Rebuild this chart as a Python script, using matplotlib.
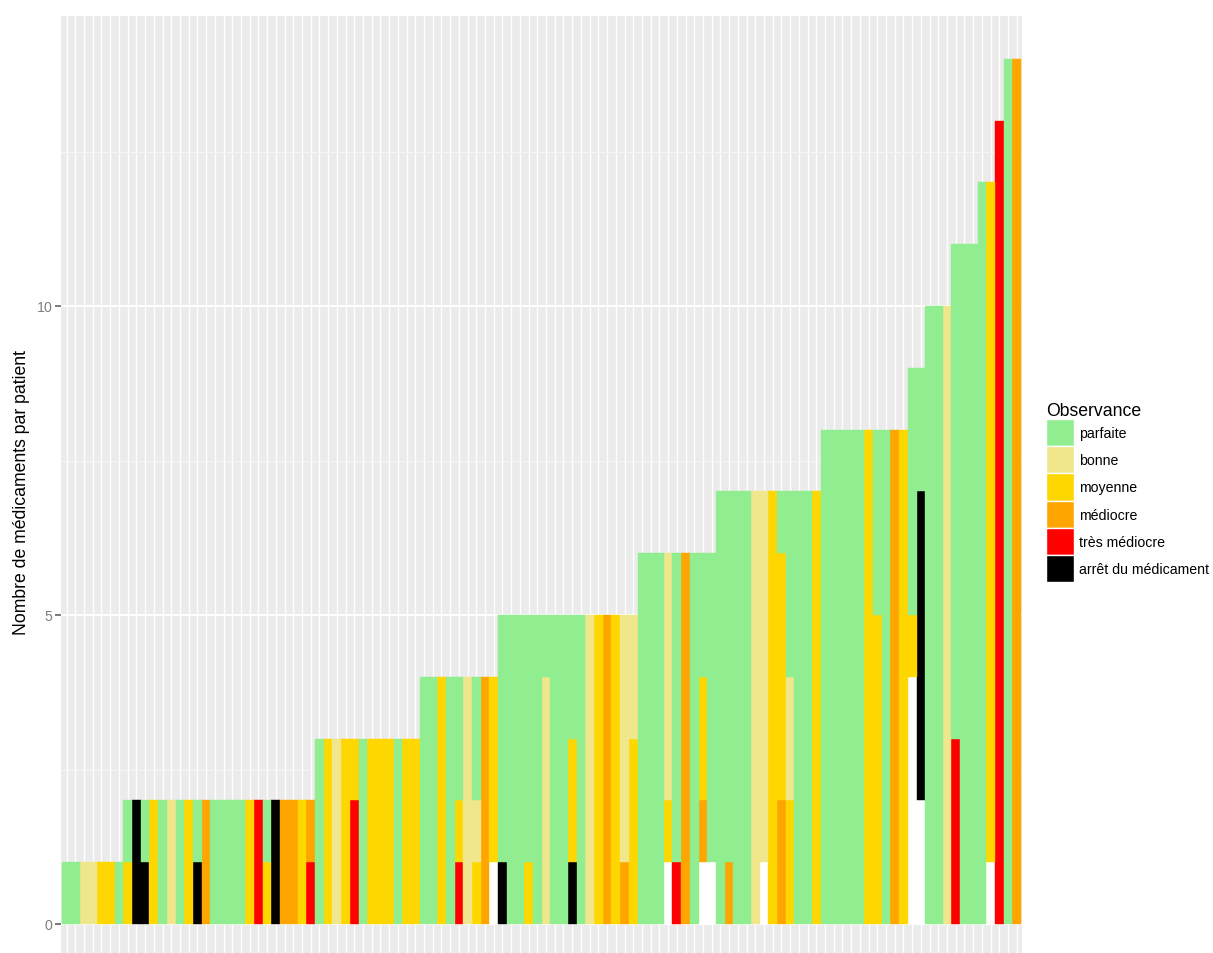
import matplotlib
matplotlib.use("Agg")
import matplotlib.pyplot as plt
import matplotlib.patches as mpatches
import numpy

# One column per patient (sorted by number of medications),
# values = number of medications of the patient in each observance class
parfaite = [
    1, 1, 0, 0, 0, 0, 1, 1, 0, 1,
    0, 2, 0, 2, 0, 1, 0, 2, 2, 2,
    2, 0, 0, 1, 0, 0, 0, 0, 0, 3,
    0, 0, 0, 0, 3, 0, 0, 0, 3, 0,
    0, 4, 4, 0, 4, 2, 0, 2, 0, 0,
    4, 5, 5, 4, 5, 1, 5, 5, 2, 5,
    0, 0, 0, 0, 0, 0, 6, 6, 6, 0,
    5, 0, 6, 2, 5, 7, 6, 7, 7, 0,
    0, 0, 1, 3, 7, 7, 0, 8, 8, 8,
    8, 8, 0, 3, 8, 0, 0, 4, 2, 10,
    10, 0, 8, 11, 11, 12, 0, 0, 14, 0]

bonne = [
    0, 0, 1, 1, 0, 0, 0, 0, 0, 0,
    0, 0, 2, 0, 0, 0, 0, 0, 0, 0,
    0, 0, 0, 0, 0, 0, 0, 0, 0, 0,
    0, 3, 0, 0, 0, 0, 0, 0, 0, 0,
    0, 0, 0, 0, 0, 0, 4, 1, 0, 0,
    0, 0, 0, 0, 0, 4, 0, 0, 0, 0,
    5, 0, 0, 0, 4, 2, 0, 0, 0, 4,
    0, 0, 0, 0, 0, 0, 0, 0, 0, 7,
    6, 0, 0, 2, 0, 0, 0, 0, 0, 0,
    0, 0, 0, 0, 0, 0, 0, 0, 0, 0,
    0, 10, 0, 0, 0, 0, 0, 0, 0, 0]

moyenne = [
    0, 0, 0, 0, 1, 1, 0, 1, 0, 0,
    2, 0, 0, 0, 2, 0, 0, 0, 0, 0,
    0, 2, 0, 1, 0, 0, 0, 2, 0, 0,
    3, 0, 3, 1, 0, 3, 3, 3, 0, 3,
    3, 0, 0, 4, 0, 1, 0, 1, 0, 3,
    0, 0, 0, 1, 0, 0, 0, 0, 2, 0,
    0, 5, 0, 5, 0, 3, 0, 0, 0, 1,
    0, 0, 0, 2, 0, 0, 0, 0, 0, 0,
    0, 7, 4, 2, 0, 0, 7, 0, 0, 0,
    0, 0, 8, 5, 0, 0, 8, 1, 0, 0,
    0, 0, 0, 0, 0, 0, 11, 0, 0, 0]

mediocre = [
    0, 0, 0, 0, 0, 0, 0, 0, 0, 0,
    0, 0, 0, 0, 0, 0, 2, 0, 0, 0,
    0, 0, 0, 0, 0, 2, 2, 0, 1, 0,
    0, 0, 0, 0, 0, 0, 0, 0, 0, 0,
    0, 0, 0, 0, 0, 0, 0, 0, 4, 0,
    0, 0, 0, 0, 0, 0, 0, 0, 0, 0,
    0, 0, 5, 0, 1, 0, 0, 0, 0, 0,
    0, 6, 0, 1, 0, 0, 1, 0, 0, 0,
    0, 0, 2, 0, 0, 0, 0, 0, 0, 0,
    0, 0, 0, 0, 0, 8, 0, 0, 0, 0,
    0, 0, 0, 0, 0, 0, 0, 0, 0, 14]

tres_mediocre = [
    0, 0, 0, 0, 0, 0, 0, 0, 0, 0,
    0, 0, 0, 0, 0, 0, 0, 0, 0, 0,
    0, 0, 2, 0, 0, 0, 0, 0, 1, 0,
    0, 0, 0, 2, 0, 0, 0, 0, 0, 0,
    0, 0, 0, 0, 0, 1, 0, 0, 0, 0,
    0, 0, 0, 0, 0, 0, 0, 0, 0, 0,
    0, 0, 0, 0, 0, 0, 0, 0, 0, 0,
    1, 0, 0, 0, 0, 0, 0, 0, 0, 0,
    0, 0, 0, 0, 0, 0, 0, 0, 0, 0,
    0, 0, 0, 0, 0, 0, 0, 0, 0, 0,
    0, 0, 3, 0, 0, 0, 0, 13, 0, 0]

arret = [
    0, 0, 0, 0, 0, 0, 0, 0, 2, 1,
    0, 0, 0, 0, 0, 1, 0, 0, 0, 0,
    0, 0, 0, 0, 2, 0, 0, 0, 0, 0,
    0, 0, 0, 0, 0, 0, 0, 0, 0, 0,
    0, 0, 0, 0, 0, 0, 0, 0, 0, 0,
    1, 0, 0, 0, 0, 0, 0, 0, 1, 0,
    0, 0, 0, 0, 0, 0, 0, 0, 0, 0,
    0, 0, 0, 0, 0, 0, 0, 0, 0, 0,
    0, 0, 0, 0, 0, 0, 0, 0, 0, 0,
    0, 0, 0, 0, 0, 0, 0, 0, 5, 0,
    0, 0, 0, 0, 0, 0, 0, 0, 0, 0]

# missing observance (drawn white, not in the legend)
non_renseigne = [
    0, 0, 0, 0, 0, 0, 0, 0, 0, 0,
    0, 0, 0, 0, 0, 0, 0, 0, 0, 0,
    0, 0, 0, 0, 0, 0, 0, 0, 0, 0,
    0, 0, 0, 0, 0, 0, 0, 0, 0, 0,
    0, 0, 0, 0, 0, 0, 0, 0, 0, 1,
    0, 0, 0, 0, 0, 0, 0, 0, 0, 0,
    0, 0, 0, 0, 0, 0, 0, 0, 0, 1,
    0, 0, 0, 1, 1, 0, 0, 0, 0, 0,
    1, 0, 0, 0, 0, 0, 0, 0, 0, 0,
    0, 0, 0, 0, 0, 0, 0, 4, 2, 0,
    0, 0, 0, 0, 0, 0, 1, 0, 0, 0]

labels = ["parfaite", "bonne", "moyenne", "médiocre", "très médiocre", "arrêt du médicament"]
colors = ["#90EE90", "#F0E68C", "#FFD700", "#FFA500", "#FF0000", "#000000"]

plt.rcParams['font.family'] = ['Liberation Sans', 'DejaVu Sans']

W, H = 1213, 954
fig = plt.figure(figsize=(W / 100, H / 100), dpi=100)

# panel in pixels: left 61.4, right 1022, y=0 at 925 px, 61.8 px per unit
ymin, ymax = -0.7, 14.7
top_px = 925 - ymax * 61.8
bot_px = 925 - ymin * 61.8
ax = fig.add_axes([61.4 / W, 1 - bot_px / H, (1022 - 61.4) / W, (bot_px - top_px) / H])
ax.set_facecolor("#EBEBEB")

x = numpy.arange(len(parfaite))

# stacking order from the bottom: NA, arrêt, très médiocre, médiocre, moyenne, bonne, parfaite
stack = [
    (non_renseigne, "#FFFFFF"),
    (arret, colors[5]),
    (tres_mediocre, colors[4]),
    (mediocre, colors[3]),
    (moyenne, colors[2]),
    (bonne, colors[1]),
    (parfaite, colors[0]),
]
bottom = numpy.zeros(len(x))
for values, c in stack:
    values = numpy.array(values, dtype=float)
    keep = values > 0
    ax.bar(x[keep], values[keep], width=1.0, bottom=bottom[keep], color=c,
           edgecolor=c, linewidth=0.3, zorder=3)
    bottom += values

ax.set_xlim(-0.6, len(x) - 1 + 0.6)
ax.set_ylim(ymin, ymax)

# grid like ggplot2
ax.set_xticks(x)
ax.set_xticklabels([])
ax.set_yticks([0, 5, 10])
ax.set_yticks([2.5, 7.5, 12.5], minor=True)
ax.grid(True, axis="x", which="major", color="white", linewidth=1.0, zorder=1)
ax.grid(True, axis="y", which="major", color="white", linewidth=1.4, zorder=1)
ax.grid(True, axis="y", which="minor", color="#F5F5F5", linewidth=0.8, zorder=1)
ax.set_axisbelow(True)

ax.tick_params(axis="x", length=0)
ax.tick_params(axis="y", which="major", length=4.5, width=1.1, color="#555555",
               labelcolor="#7F7F7F", labelsize=10.2, pad=2)
ax.tick_params(axis="y", which="minor", length=0)
for s in ax.spines.values():
    s.set_visible(False)

ax.set_ylabel("Nombre de médicaments par patient", fontsize=12.7, labelpad=5)

# Legend
handles = [mpatches.Patch(facecolor=c, edgecolor="white", linewidth=1.0, label=l)
           for c, l in zip(colors, labels)]
leg = fig.legend(handles=handles, title="Observance", loc="upper left",
                 bbox_to_anchor=(1046 / W, 1 - 403 / H), frameon=False,
                 fontsize=10.2, title_fontsize=12.7, handlelength=1.95, handleheight=2.58,
                 labelspacing=0.0, handletextpad=0.35, borderpad=0, borderaxespad=0,
                 alignment="left")

plt.savefig("out.png", dpi=100)
